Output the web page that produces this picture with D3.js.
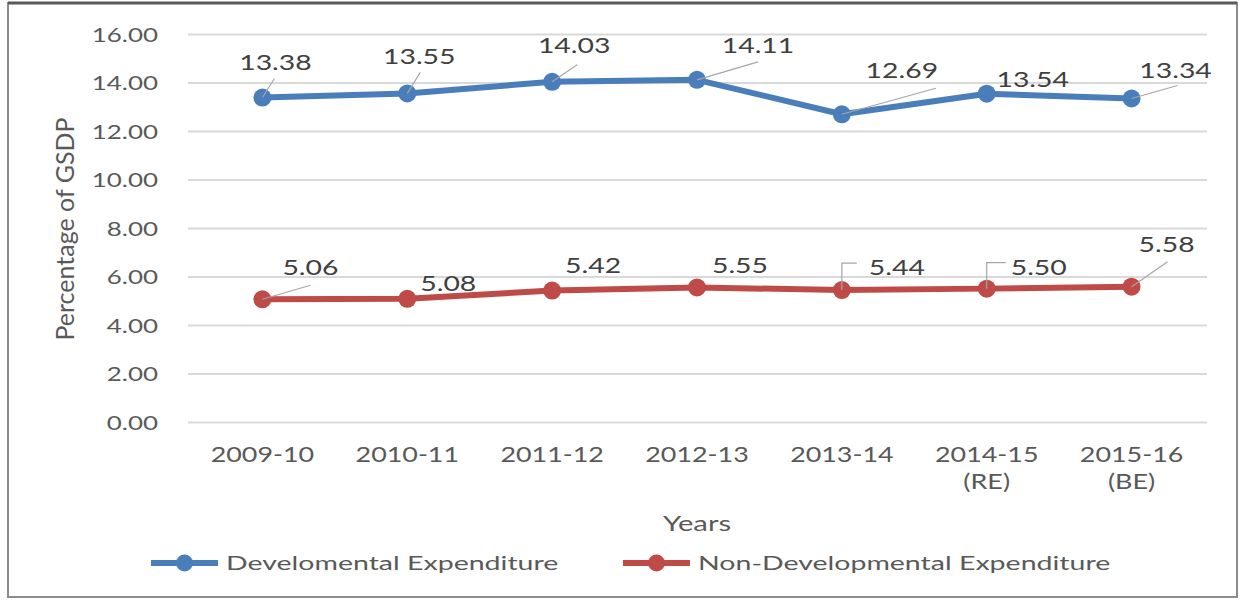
<!DOCTYPE html>
<html>
<head>
<meta charset="utf-8">
<script src="https://cdn.jsdelivr.net/npm/d3@7"></script>
<style>
  body { margin: 0; background: #fff; }
  text { font-family: Lato, "Open Sans", sans-serif; }
</style>
</head>
<body>
<svg id="chart" width="1242" height="601"></svg>
<script>
// chart values
var years = ["2009-10", "2010-11", "2011-12", "2012-13", "2013-14", "2014-15", "2015-16"];
var yearNotes = ["", "", "", "", "", "(RE)", "(BE)"];
var developmental = [13.38, 13.55, 14.03, 14.11, 12.69, 13.54, 13.34];
var nonDevelopmental = [5.06, 5.08, 5.42, 5.55, 5.44, 5.50, 5.58];
var yTicks = [0, 2, 4, 6, 8, 10, 12, 14, 16];
var seriesNames = ["Develomental Expenditure", "Non-Developmental Expenditure"];

// where the data labels sit, relative to their point (text offset, leader path)
var devLabelOffset = [[13, -28], [12, -29], [22, -29], [61, -27], [60, -36], [46, -7], [44, -21]];
var devLeader = [[[12, -19]], [[13, -21]], [[25, -17]], [[61, -18]], [[94, -26]], null, [[46, -13]]];
var nonLabelOffset = [[48, -24], [41, -8], [41, -18], [43, -14], [55, -15], [52, -14], [35, -35]];
var nonLeader = [[[48, -14]], null, null, null, [[0, -27], [15, -27]], [[0, -26], [19, -26]], [[36, -25]]];

var blue = "#4a7ebb";
var red = "#be4b48";
var svg = d3.select("#chart");

// widen text horizontally (the source chart is stretched sideways)
function widen(sel, k) {
  sel.each(function () {
    var t = d3.select(this);
    var x = +t.attr("x") || 0, y = +t.attr("y") || 0;
    t.attr("transform", "translate(" + x + "," + y + ") scale(" + k + ",1)")
      .attr("x", 0).attr("y", 0);
  });
}

// frame
svg.append("rect").attr("x", 8).attr("y", 3).attr("width", 1229).attr("height", 594)
  .attr("fill", "none").attr("stroke", "#8c8c8c").attr("stroke-width", 2);
svg.append("line").attr("x1", 8).attr("x2", 1237).attr("y1", 3).attr("y2", 3)
  .attr("stroke", "#595959").attr("stroke-width", 3);

var x = d3.scalePoint().domain(years).range([190, 1204]).padding(0.5);
var y = d3.scaleLinear().domain([0, 16]).range([422, 34]);

// y axis with gridlines
var yAxis = svg.append("g")
  .attr("transform", "translate(188,0)")
  .call(d3.axisLeft(y).tickValues(yTicks).tickFormat(d3.format(".2f"))
    .tickSize(-1019).tickPadding(30));
yAxis.select(".domain").remove();
yAxis.selectAll(".tick line").attr("stroke", "#d9d9d9").attr("stroke-width", 2);
yAxis.selectAll(".tick text")
  .attr("fill", "#595959").style("font-size", "19.5px")
  .attr("dy", "0.36em");
yAxis.selectAll(".tick text").each(function () {
  var t = d3.select(this);
  t.attr("transform", "translate(-30,0) scale(1.33,1)").attr("x", 0);
});

// x labels
var xl = svg.append("g").selectAll("text")
  .data(years)
  .enter()
  .append("text")
  .attr("x", function (d) { return x(d); })
  .attr("y", 462)
  .attr("text-anchor", "middle")
  .attr("fill", "#595959")
  .style("font-size", "21.5px");
xl.append("tspan").attr("x", 0).text(function (d) { return d; });
xl.append("tspan").attr("x", 0).attr("dy", 27)
  .text(function (d, i) { return yearNotes[i]; });
widen(xl, 1.25);

// axis titles
var yt = svg.append("text")
  .attr("transform", "translate(74,229) rotate(-90)")
  .attr("text-anchor", "middle")
  .attr("fill", "#595959")
  .style("font-size", "25px")
  .text("Percentage of GSDP");

var xt = svg.append("text")
  .attr("x", 697).attr("y", 531)
  .attr("text-anchor", "middle")
  .attr("fill", "#595959")
  .style("font-size", "22px")
  .text("Years");
widen(xt, 1.33);

var line = d3.line()
  .x(function (d, i) { return x(years[i]); })
  .y(function (d) { return y(d); });

function drawSeries(values, color, labelOffset, leaders) {
  var g = svg.append("g");
  g.append("path")
    .datum(values)
    .attr("d", line)
    .attr("fill", "none")
    .attr("stroke", color)
    .attr("stroke-width", 6)
    .attr("stroke-linejoin", "round");

  g.selectAll("circle")
    .data(values)
    .enter()
    .append("circle")
    .attr("cx", function (d, i) { return x(years[i]); })
    .attr("cy", function (d) { return y(d); })
    .attr("r", 9)
    .attr("fill", color);

  // leader lines
  g.selectAll("path.leader")
    .data(values)
    .enter()
    .filter(function (d, i) { return leaders[i]; })
    .append("path")
    .attr("class", "leader")
    .attr("d", function (d) {
      var i = values.indexOf(d);
      var px = x(years[i]), py = y(d);
      var pts = [[px, py]].concat(leaders[i].map(function (p) { return [px + p[0], py + p[1]]; }));
      return d3.line()(pts);
    })
    .attr("fill", "none")
    .attr("stroke", "#a6a6a6")
    .attr("stroke-width", 1.2);

  var labels = g.selectAll("text")
    .data(values)
    .enter()
    .append("text")
    .attr("x", function (d, i) { return x(years[i]) + labelOffset[i][0]; })
    .attr("y", function (d, i) { return y(d) + labelOffset[i][1]; })
    .attr("text-anchor", "middle")
    .attr("fill", "#404040")
    .style("font-size", "21.5px")
    .text(function (d) { return d3.format(".2f")(d); });
  widen(labels, 1.32);
}

drawSeries(developmental, blue, devLabelOffset, devLeader);
drawSeries(nonDevelopmental, red, nonLabelOffset, nonLeader);

// legend
var legendX = [[151, 218], [623, 690]];
var legend = svg.append("g").selectAll("g")
  .data(seriesNames)
  .enter()
  .append("g");
legend.append("line")
  .attr("x1", function (d, i) { return legendX[i][0]; })
  .attr("x2", function (d, i) { return legendX[i][1]; })
  .attr("y1", 563).attr("y2", 563)
  .attr("stroke", function (d, i) { return i ? red : blue; })
  .attr("stroke-width", 6);
legend.append("circle")
  .attr("cx", function (d, i) { return (legendX[i][0] + legendX[i][1]) / 2; })
  .attr("cy", 563)
  .attr("r", 8.5)
  .attr("fill", function (d, i) { return i ? red : blue; });
var lt = legend.append("text")
  .attr("x", function (d, i) { return legendX[i][1] + 8; })
  .attr("y", 570)
  .attr("fill", "#595959")
  .style("font-size", "19px")
  .text(function (d) { return d; });
widen(lt, 1.5);
</script>
</body>
</html>
